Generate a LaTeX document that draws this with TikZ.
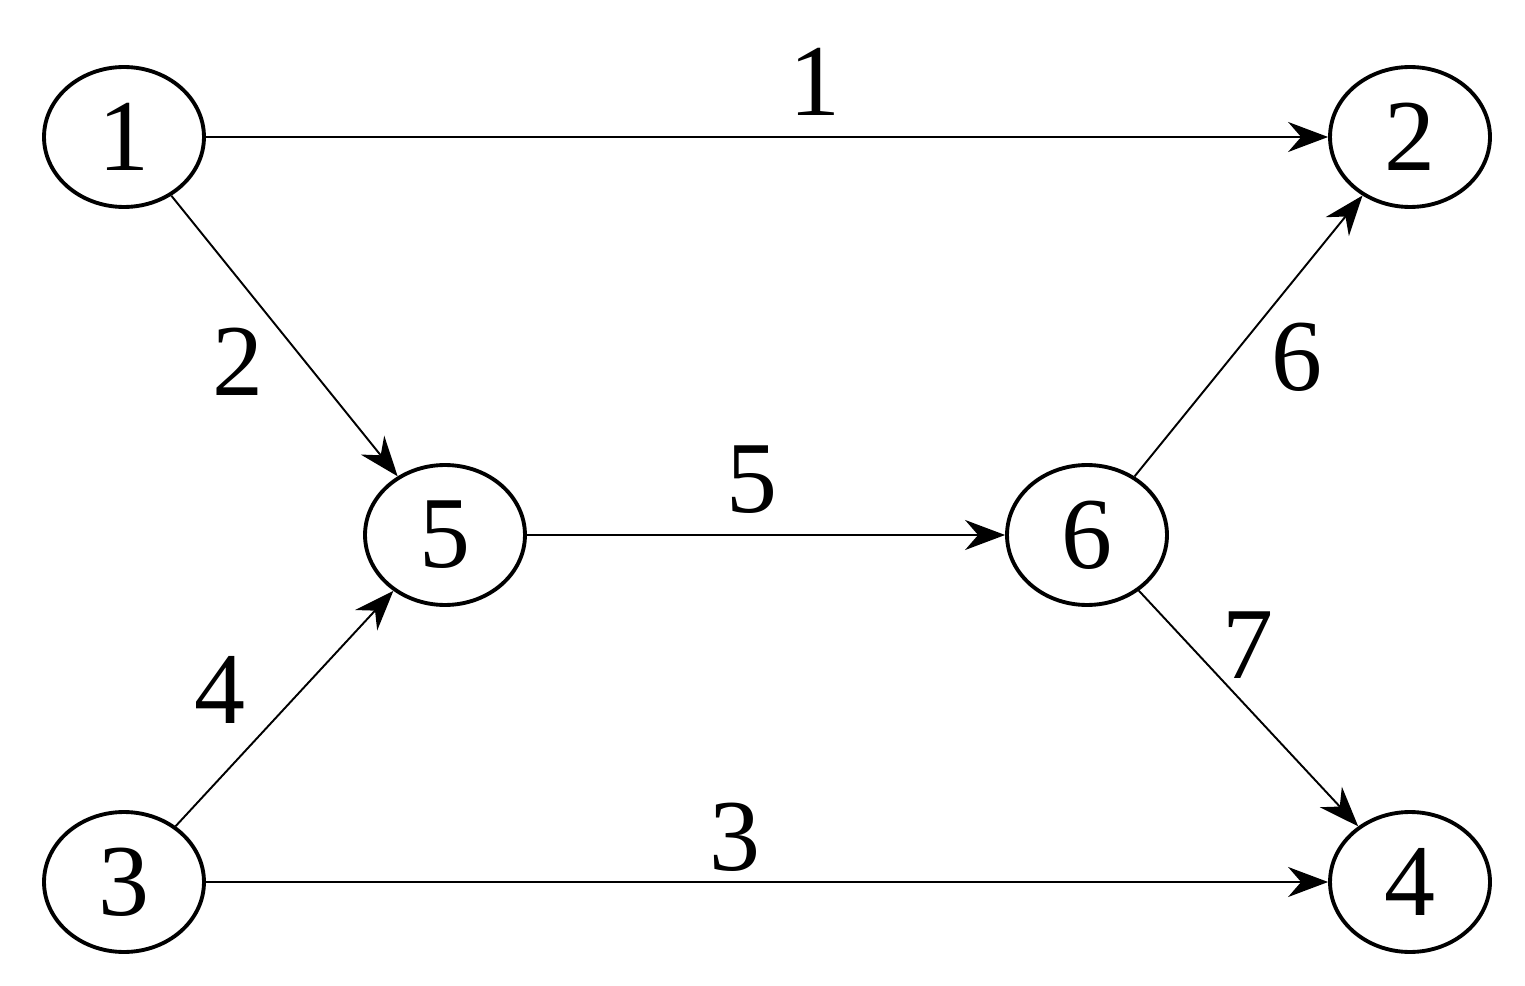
\documentclass[tikz,border=0pt]{standalone}
\usepackage{fontspec}
\setmainfont{Liberation Serif}
\usetikzlibrary{arrows.meta,shapes.geometric}
\begin{document}
\begin{tikzpicture}[x=0.02cm,y=-0.02cm,
  vert/.style={draw,ellipse,line width=2.2pt,minimum width=3.2cm,minimum height=2.8cm,inner sep=0pt,font=\fontsize{58}{60}\selectfont},
  edge/.style={line width=1.1pt,-{Stealth[length=0.8cm,width=0.6cm]}},
  lab/.style={font=\fontsize{58}{60}\selectfont,inner sep=0pt}]
\useasboundingbox (0,0) rectangle (1525,986);
\node[vert] (n1) at (124,137) {1};
\node[vert] (n2) at (1410,137) {2};
\node[vert] (n5) at (445,535) {5};
\node[vert] (n6) at (1087,535) {6};
\node[vert] (n3) at (124,882) {3};
\node[vert] (n4) at (1410,882) {4};
\draw[edge] (n1) -- (n2);
\draw[edge] (n1) -- (n5);
\draw[edge] (n3) -- (n5);
\draw[edge] (n5) -- (n6);
\draw[edge] (n6) -- (n2);
\draw[edge] (n6) -- (n4);
\draw[edge] (n3) -- (n4);
\node[lab] (l1) at (815,82) {1};
\node[lab] (l2) at (238,362) {2};
\node[lab] (l5) at (752,480) {5};
\node[lab] (l6) at (1297,357) {6};
\node[lab] (l7) at (1248,645) {7};
\node[lab] (l4) at (220,690) {4};
\node[lab] (l3) at (735,837) {3};
\end{tikzpicture}
\end{document}
